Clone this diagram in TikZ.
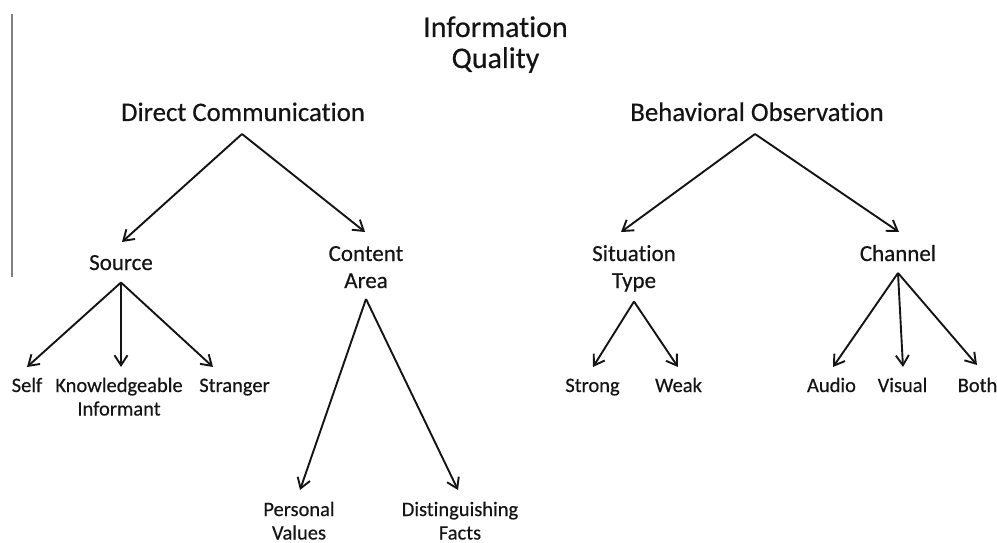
\documentclass[tikz,border=0pt]{standalone}
\usepackage{fontspec}
\setmainfont{Carlito}[Ligatures=NoCommon,FakeBold=0.4]
\usetikzlibrary{arrows.meta}
% two centred lines whose baseline is that of the first line
\newcommand{\twolines}[2]{\begin{tabular}[t]{@{}c@{}}#1\\#2\end{tabular}}
\begin{document}
\begin{tikzpicture}[x=1pt,y=-1pt,
  lbl/.style={anchor=base,inner sep=0pt,text=black!92},
  titlelbl/.style={lbl,font=\fontsize{30}{31}\selectfont},
  lvlone/.style={lbl,font=\fontsize{26.8}{32}\selectfont},
  lvltwo/.style={lbl,font=\fontsize{23}{27}\selectfont},
  lvlthree/.style={lbl,font=\fontsize{20.5}{23.5}\selectfont},
  arr/.style={-{Straight Barb[length=10pt,width=13pt]},line width=1.9pt,black!92}]
\useasboundingbox (0,0) rectangle (997,543);
\clip (0,0) rectangle (997,543);

% side rule
\draw[black!50,line width=1.8pt] (12,14) -- (12,277);

% labels
\node[titlelbl] (iq) at (495.5,37) {\twolines{Information}{Quality}};
\node[lvlone] (dc) at (243,121) {Direct Communication};
\node[lvlone] (bo) at (757,121) {Behavioral Observation};

\node[lvltwo] (src) at (121,270) {Source};
\node[lvltwo] (ca) at (366,261) {\twolines{Content}{Area}};
\node[lvltwo] (st) at (634,261) {\twolines{Situation}{Type}};
\node[lvltwo] (ch) at (898,261) {Channel};

\node[lvlthree] (self) at (27,392) {Self};
\node[lvlthree] (kn) at (119,392) {\twolines{Knowledgeable}{Informant}};
\node[lvlthree] (str) at (234.5,392) {Stranger};
\node[lvlthree] (pv) at (299,516) {\twolines{Personal}{Values}};
\node[lvlthree] (df) at (460,516) {\twolines{Distinguishing}{Facts}};
\node[lvlthree] (sg) at (592.5,392) {Strong};
\node[lvlthree] (wk) at (678.5,392) {Weak};
\node[lvlthree] (au) at (831.5,392) {Audio};
\node[lvlthree] (vi) at (902.5,392) {Visual};
\node[lvlthree] (bt) at (977.5,392) {Both};

% Direct Communication branch
\draw[arr] ([xshift=-1pt,yshift=-13pt]dc.base) -- ([xshift=1pt,yshift=28pt]src.base);
\draw[arr] ([xshift=-1pt,yshift=-13pt]dc.base) -- ([xshift=-1pt,yshift=29pt]ca.base);

\draw[arr] ([yshift=-12.5pt]src.base) -- ([yshift=25pt]self.base);
\draw[arr] ([yshift=-12.5pt]src.base) -- ([xshift=2pt,yshift=25pt]kn.base);
\draw[arr] ([yshift=-12.5pt]src.base) -- ([xshift=-21.5pt,yshift=25pt]str.base);

\draw[arr] ([yshift=-38pt]ca.base) -- ([xshift=1pt,yshift=26pt]pv.base);
\draw[arr] ([yshift=-38pt]ca.base) -- ([xshift=-2pt,yshift=26pt]df.base);

% Behavioral Observation branch
\draw[arr] ([xshift=-2pt,yshift=-13pt]bo.base) -- ([xshift=-13pt,yshift=29pt]st.base);
\draw[arr] ([xshift=-2pt,yshift=-13pt]bo.base) -- ([xshift=1pt,yshift=29pt]ch.base);

\draw[arr] ([yshift=-40.5pt]st.base) -- ([xshift=0.5pt,yshift=25pt]sg.base);
\draw[arr] ([yshift=-40.5pt]st.base) -- ([xshift=-0.5pt,yshift=25pt]wk.base);

\draw[arr] ([yshift=-12pt]ch.base) -- ([xshift=1.5pt,yshift=25pt]au.base);
\draw[arr] ([yshift=-12pt]ch.base) -- ([xshift=0.5pt,yshift=25pt]vi.base);
\draw[arr] ([yshift=-12pt]ch.base) -- ([xshift=-0.5pt,yshift=27pt]bt.base);
\end{tikzpicture}
\end{document}
